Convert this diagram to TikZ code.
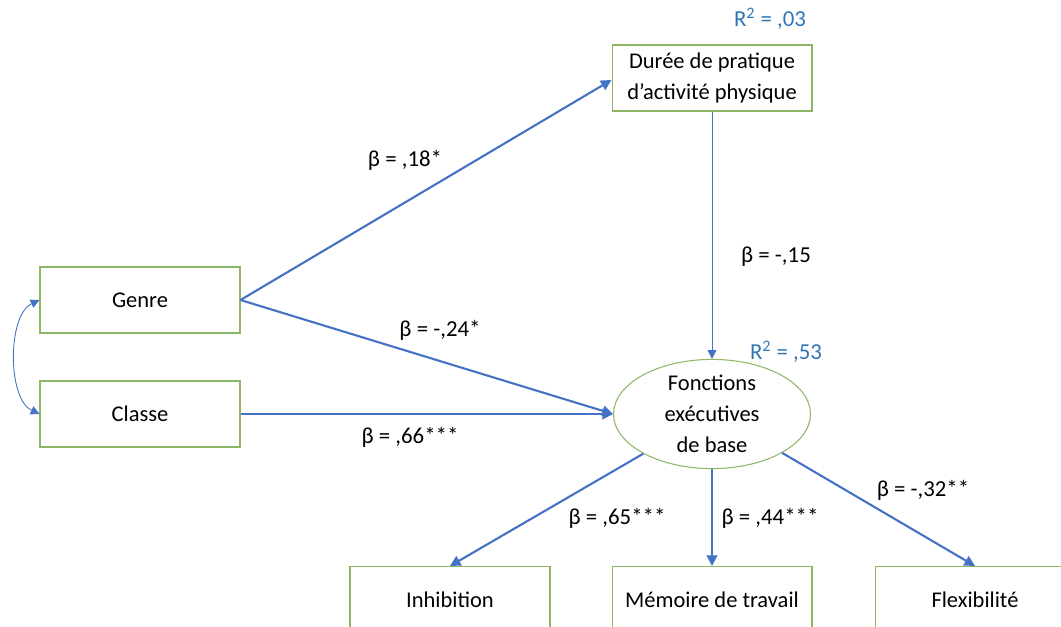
\documentclass[tikz,border=0pt]{standalone}
\usepackage{fontspec}
\setmainfont{Carlito}
\usetikzlibrary{arrows.meta,shapes.geometric}
\definecolor{pathblue}{HTML}{4472C4}
\definecolor{boxgreen}{HTML}{8DB764}
\definecolor{rblue}{HTML}{2E75B6}
\tikzset{
  varbox/.style={draw=boxgreen, line width=0.6pt, minimum width=4cm, minimum height=1.32cm,
    align=center, inner sep=0pt, font=\fontsize{12.8}{17.5}\selectfont},
  latent/.style={draw=boxgreen, line width=0.6pt, ellipse, minimum width=3.94cm, minimum height=2cm,
    align=center, inner sep=0pt, font=\fontsize{12.8}{17.5}\selectfont},
  path/.style={draw=pathblue, line width=1.2pt, -{Triangle[length=6pt,width=6pt]}},
  thinpath/.style={draw=pathblue, line width=0.5pt, -{Triangle[length=5pt,width=5pt]}},
  coef/.style={font=\fontsize{13}{15}\selectfont},
  rsq/.style={font=\fontsize{13}{15}\selectfont, text=rblue}
}
\begin{document}
\begin{tikzpicture}[x=0.02cm, y=-0.02cm]
  \useasboundingbox (0,0) rectangle (1061,626);
  % observed variables
  \node[varbox] (genre) at (140,300) {Genre};
  \node[varbox] (classe) at (140,414) {Classe};
  \node[varbox] (duree) at (712,78) {Durée de pratique\\d’activité physique};
  \node[latent] (fexec) at (712,414) {Fonctions\\exécutives\\de base};
  \node[varbox, anchor=north] (inhib) at (450,566) {Inhibition};
  \node[varbox, anchor=north] (memoire) at (712,566) {Mémoire de travail};
  \node[varbox, anchor=north] (flex) at (975,566) {Flexibilité};
  % paths
  \draw[path] (genre.east) -- (duree.west |- 0,80);
  \draw[path] (genre.east) -- (fexec.west);
  \draw[path] (classe.east) -- (fexec.west);
  \draw[thinpath] (duree.south) -- (fexec.north);
  \draw[path] (fexec.210) -- (inhib.north);
  \draw[path] (fexec.south) -- (memoire.north);
  \draw[path] (fexec.331) -- (flex.north);
  % covariance
  \draw[thinpath, {Triangle[length=5pt,width=5pt]}-{Triangle[length=5pt,width=5pt]}]
    (genre.west) to[out=205, in=155, looseness=0.8] (classe.west);
  % coefficients
  \node[rsq] (r1) at (770,19) {R\textsuperscript{2} = ,03};
  \node[rsq] (r2) at (786,352) {R\textsuperscript{2} = ,53};
  \node[coef] (b1) at (405,160) {β = ,18*};
  \node[coef] (b2) at (440,330) {β = -,24*};
  \node[coef] (b3) at (410,437) {β = ,66***};
  \node[coef] (b4) at (776,257) {β = -,15};
  \node[coef] (b5) at (617,518) {β = ,65***};
  \node[coef] (b6) at (770,518) {β = ,44***};
  \node[coef] (b7) at (923,490) {β = -,32**};
\end{tikzpicture}
\end{document}
